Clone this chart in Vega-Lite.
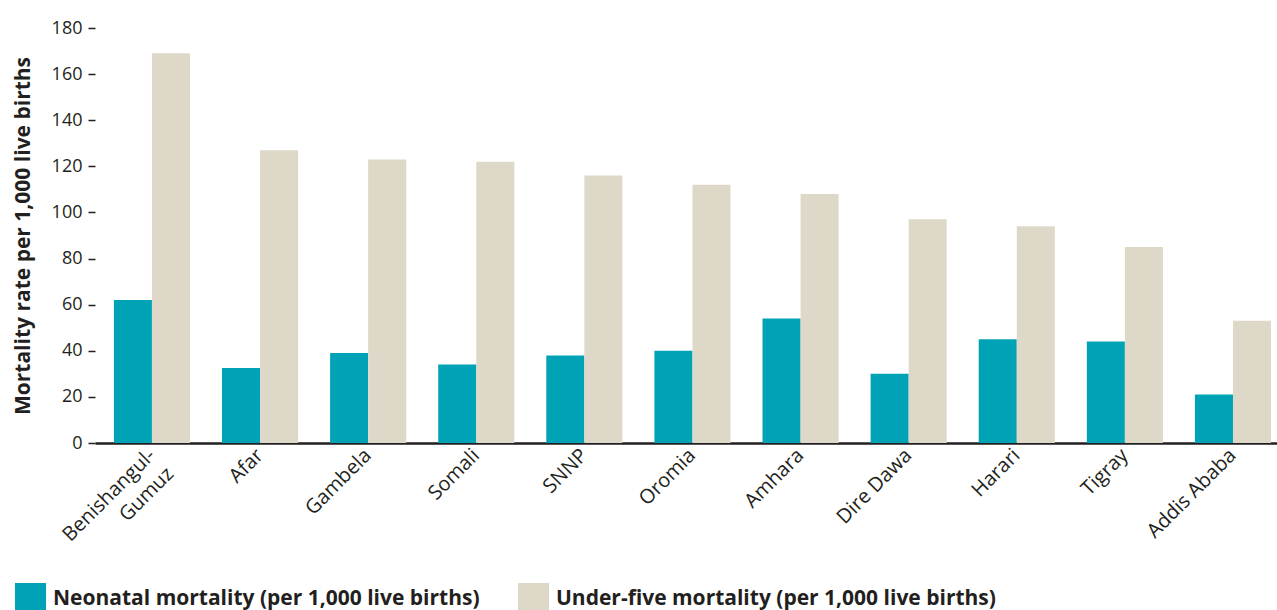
{
  "$schema": "https://vega.github.io/schema/vega-lite/v6.json",
  "autosize": {"type": "none"},
  "padding": {"left": 95, "top": 28, "right": 0, "bottom": 167},
  "width": 1182,
  "height": 415,
  "background": "white",
  "config": {
    "font": "Open Sans",
    "view": {"stroke": null},
    "axis": {"labelColor": "#231F20", "titleColor": "#231F20", "grid": false}
  },
  "data": {
    "values": [
      {"region": "Benishangul-Gumuz", "measure": "Neonatal mortality (per 1,000 live births)", "value": 62},
      {"region": "Benishangul-Gumuz", "measure": "Under-five mortality (per 1,000 live births)", "value": 169},
      {"region": "Afar", "measure": "Neonatal mortality (per 1,000 live births)", "value": 32.5},
      {"region": "Afar", "measure": "Under-five mortality (per 1,000 live births)", "value": 127},
      {"region": "Gambela", "measure": "Neonatal mortality (per 1,000 live births)", "value": 39},
      {"region": "Gambela", "measure": "Under-five mortality (per 1,000 live births)", "value": 123},
      {"region": "Somali", "measure": "Neonatal mortality (per 1,000 live births)", "value": 34},
      {"region": "Somali", "measure": "Under-five mortality (per 1,000 live births)", "value": 122},
      {"region": "SNNP", "measure": "Neonatal mortality (per 1,000 live births)", "value": 38},
      {"region": "SNNP", "measure": "Under-five mortality (per 1,000 live births)", "value": 116},
      {"region": "Oromia", "measure": "Neonatal mortality (per 1,000 live births)", "value": 40},
      {"region": "Oromia", "measure": "Under-five mortality (per 1,000 live births)", "value": 112},
      {"region": "Amhara", "measure": "Neonatal mortality (per 1,000 live births)", "value": 54},
      {"region": "Amhara", "measure": "Under-five mortality (per 1,000 live births)", "value": 108},
      {"region": "Dire Dawa", "measure": "Neonatal mortality (per 1,000 live births)", "value": 30},
      {"region": "Dire Dawa", "measure": "Under-five mortality (per 1,000 live births)", "value": 97},
      {"region": "Harari", "measure": "Neonatal mortality (per 1,000 live births)", "value": 45},
      {"region": "Harari", "measure": "Under-five mortality (per 1,000 live births)", "value": 94},
      {"region": "Tigray", "measure": "Neonatal mortality (per 1,000 live births)", "value": 44},
      {"region": "Tigray", "measure": "Under-five mortality (per 1,000 live births)", "value": 85},
      {"region": "Addis Ababa", "measure": "Neonatal mortality (per 1,000 live births)", "value": 21},
      {"region": "Addis Ababa", "measure": "Under-five mortality (per 1,000 live births)", "value": 53}
    ]
  },
  "mark": {"type": "bar"},
  "encoding": {
    "x": {
      "field": "region",
      "type": "nominal",
      "sort": null,
      "scale": {"paddingInner": 0.296, "paddingOuter": 0.115, "align": 0.76},
      "axis": {
        "title": null,
        "labelAngle": -45,
        "labelAlign": "right",
        "labelBaseline": "middle",
        "labelFontSize": 20,
        "labelPadding": 9,
        "ticks": false,
        "tickSize": 0,
        "domainColor": "#231F20",
        "domainWidth": 2.5,
        "labelExpr": "datum.value == 'Benishangul-Gumuz' ? ['Benishangul-', 'Gumuz'] : datum.value",
        "labelLineHeight": 26
      }
    },
    "xOffset": {"field": "measure", "type": "nominal", "sort": null},
    "y": {
      "field": "value",
      "type": "quantitative",
      "scale": {"domain": [0, 180], "nice": false},
      "axis": {
        "title": "Mortality rate per 1,000 live births",
        "titleFontSize": 21,
        "titleFontWeight": "bold",
        "titlePadding": 18,
        "values": [0, 20, 40, 60, 80, 100, 120, 140, 160, 180],
        "labelFontSize": 18,
        "labelPadding": 6,
        "tickSize": 7,
        "tickColor": "#231F20",
        "tickWidth": 1.5,
        "domain": false
      }
    },
    "color": {
      "field": "measure",
      "type": "nominal",
      "sort": null,
      "scale": {
        "domain": ["Neonatal mortality (per 1,000 live births)", "Under-five mortality (per 1,000 live births)"],
        "range": ["#00A3B5", "#DED8C8"]
      },
      "legend": {
        "title": null,
        "orient": "none",
        "direction": "horizontal",
        "legendX": -80,
        "legendY": 555,
        "symbolType": "square",
        "symbolSize": 961,
        "symbolStrokeWidth": 0,
        "labelFontSize": 21,
        "labelFontWeight": "bold",
        "labelColor": "#231F20",
        "labelOffset": 7,
        "labelLimit": 600,
        "columnPadding": 38
      }
    }
  }
}
